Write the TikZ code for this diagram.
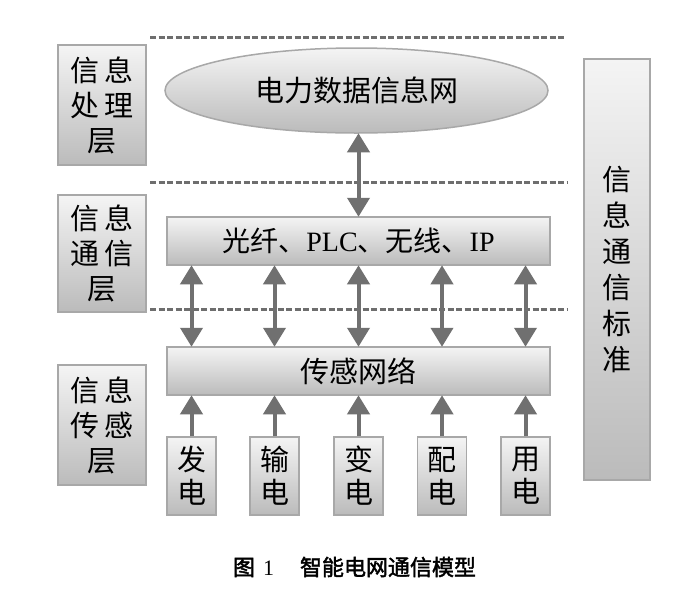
\documentclass[tikz,border=0pt]{standalone}
\usepackage{fontspec}
\setmainfont{Liberation Serif}
\newfontfamily\cjk{Noto Sans CJK SC}
\newfontfamily\cjkcap{Noto Sans CJK SC}[FakeBold=2]
\usetikzlibrary{arrows.meta,shapes.geometric}
\definecolor{bd}{HTML}{A8A8A8}
\definecolor{topc}{HTML}{F4F4F4}
\definecolor{botc}{HTML}{BBBBBB}
\definecolor{ac}{HTML}{707070}
\definecolor{dc}{HTML}{6E6E6E}
\tikzset{
  gbox/.style={draw=bd, line width=1.5pt, top color=topc, bottom color=botc, inner sep=0pt, align=center},
  tri/.tip={Triangle[width=22pt,length=19pt]},
  arr/.style={draw=ac, line width=4pt, -tri, shorten >=-0.5pt},
  darr/.style={draw=ac, line width=4pt, tri-tri, shorten >=-0.5pt, shorten <=-0.5pt},
  dline/.style={draw=dc, line width=3pt, dash pattern=on 6pt off 2.5pt},
  layerbox/.style={gbox, minimum width=88pt, font=\cjk\fontsize{29}{35}\selectfont},
  srcbox/.style={gbox, minimum width=49pt, minimum height=78pt, font=\cjk\fontsize{29}{33}\selectfont},
  bar/.style={gbox, minimum width=383pt, minimum height=48pt, font=\fontsize{28}{30}\selectfont},
}
\begin{document}
\begin{tikzpicture}[x=1pt,y=-1pt]
\useasboundingbox[fill=white] (0,0) rectangle (700,590);
% dashed separators
\coordinate (d1a) at (150,37);  \coordinate (d1b) at (566,37);
\coordinate (d2a) at (150,182); \coordinate (d2b) at (568,182);
\coordinate (d3a) at (150,309); \coordinate (d3b) at (568,309);
\draw[dline] (d1a) -- (d1b);
\draw[dline] (d2a) -- (d2b);
\draw[dline] (d3a) -- (d3b);
% left layer boxes
\node[layerbox, minimum height=120pt] (L1) at (102,105) {信\hspace{5pt}息\\处\hspace{5pt}理\\层};
\node[layerbox, minimum height=117pt] (L2) at (102,253.5) {信\hspace{5pt}息\\通\hspace{5pt}信\\层};
\node[layerbox, minimum height=120pt] (L3) at (102,425) {信\hspace{5pt}息\\传\hspace{5pt}感\\层};
% right standard box
\node[gbox, minimum width=66pt, minimum height=421pt, font=\cjk\fontsize{29}{36}\selectfont] (R) at (617,269.5) {信\\息\\通\\信\\标\\准};
% ellipse
\node[gbox, ellipse, minimum width=383pt, minimum height=85pt, font=\cjk\fontsize{29}{30}\selectfont] (E) at (356.5,90.5) {电力数据信息网};
% bars
\node[bar] (C) at (358.5,241) {{\cjk 光纤、}PLC{\cjk 、无线、}IP};
\node[bar, font=\cjk\fontsize{29}{30}\selectfont] (S) at (358.5,371) {传感网络};
% source boxes
\node[srcbox] (b1) at (191.5,476) {发\\电};
\node[srcbox] (b2) at (274.5,476) {输\\电};
\node[srcbox] (b3) at (358.5,476) {变\\电};
\node[srcbox] (b4) at (442,476) {配\\电};
\node[srcbox] (b5) at (525.5,476) {用\\电};
% arrows
\draw[darr] (E.south -| C) -- (C.north);
\foreach \b in {b1,b2,b3,b4,b5}{
  \draw[darr] (S.north -| \b) -- (C.south -| \b);
  \draw[arr] (\b.north) -- (S.south -| \b);
}
% caption
\node[font=\fontsize{22}{24}\selectfont] (cap) at (354.5,567) {{\cjkcap 图}\hspace{8pt}1\hspace{26pt}{\cjkcap 智能电网通信模型}};
\end{tikzpicture}
\end{document}
